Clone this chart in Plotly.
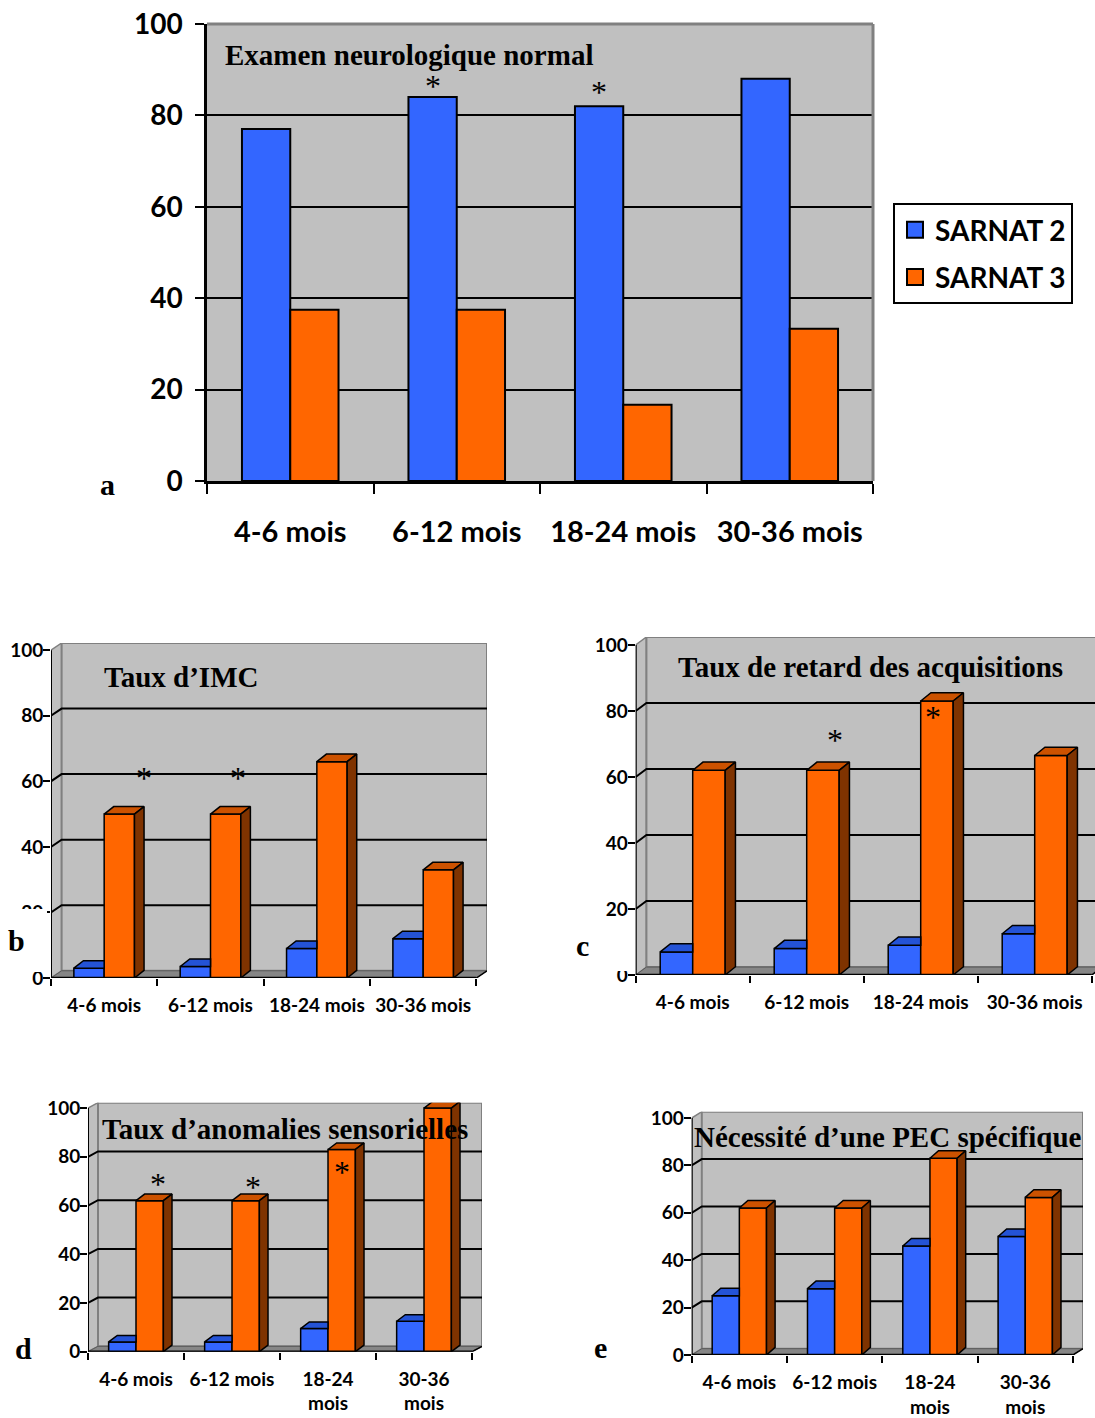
import plotly.graph_objects as go

# ---------------- data ----------------
categories = ["4-6 mois", "6-12 mois", "18-24 mois", "30-36 mois"]
categories_wrapped = ["4-6 mois", "6-12 mois", "18-24<br>mois", "30-36<br>mois"]
series_names = ["SARNAT 2", "SARNAT 3"]
y_ticks = [0, 20, 40, 60, 80, 100]

# a : Examen neurologique normal
neuro_s2 = [77, 84, 82, 88]
neuro_s3 = [37.5, 37.5, 16.7, 33.3]
# b : Taux d'IMC
imc_s2 = [3, 3.5, 9, 12]
imc_s3 = [50, 50, 66, 33]
# c : Taux de retard des acquisitions
retard_s2 = [7, 8, 9, 12.5]
retard_s3 = [62, 62, 83, 66.5]
# d : Taux d'anomalies sensorielles
sens_s2 = [4, 4, 9.5, 12.5]
sens_s3 = [62, 62, 83, 100]
# e : Nécessité d'une PEC spécifique
pec_s2 = [25, 28, 46, 50]
pec_s3 = [62, 62, 83, 66.5]

# significance asterisks: (category index, horizontal offset within category, value level)
stars_a = [(1, -0.145, 87.0), (2, -0.145, 85.8)]
stars_b = [(0, 0.37, 62), (1, 0.26, 62)]
stars_c = [(1, 0.25, 72), (2, 0.11, 79)]
stars_d = [(0, 0.23, 70), (1, 0.22, 69), (2, 0.15, 75)]

# ---------------- style ----------------
W, H = 1095, 1418
BLUE, BLUE_TOP = "#3366FF", "#2453D6"
ORANGE, ORANGE_TOP, ORANGE_SIDE = "#FF6600", "#CC5200", "#7F3300"
WALL, FLOOR, EDGE = "#C0C0C0", "#868686", "#808080"
SANS = "Lato"
SERIF = "Liberation Serif"


def px(x):
    return x / W


def py(y):
    return 1 - y / H


idx = list(range(len(categories)))
fig = go.Figure()
shapes = []
annotations = []


def axn(n, letter):
    return letter if n == 1 else f"{letter}{n}"


def add_front_bars(n, s2, s3, bw, lw):
    for vals, col, off in ((s2, BLUE, -bw), (s3, ORANGE, 0)):
        fig.add_trace(go.Bar(
            x=idx, y=vals, width=bw, offset=off,
            marker=dict(color=col, line=dict(color="black", width=lw)),
            xaxis=axn(n, "x"), yaxis=axn(n, "y"),
            showlegend=False, hoverinfo="skip"))


def polys_trace(n, xs, ys, color):
    fig.add_trace(go.Scatter(
        x=xs, y=ys, mode="lines", fill="toself", fillcolor=color,
        line=dict(color="black", width=1.5),
        xaxis=axn(n, "x"), yaxis=axn(n, "y"),
        showlegend=False, hoverinfo="skip"))


def add_3d_faces(n, s2, s3, bw, bdx, bdy):
    bt_x, bt_y = [], []
    ot_x, ot_y, os_x, os_y = [], [], [], []
    for c, vb, vo in zip(idx, s2, s3):
        xl = c - bw
        if vo >= vb + bdy:   # right part of blue top hidden by orange front face
            bt_x += [xl, xl + bdx, c, c, xl, None]
        else:
            bt_x += [xl, xl + bdx, c + bdx, c, xl, None]
        bt_y += [vb, vb + bdy, vb + bdy, vb, vb, None]
        ot_x += [c, c + bdx, c + bw + bdx, c + bw, c, None]
        ot_y += [vo, vo + bdy, vo + bdy, vo, vo, None]
        os_x += [c + bw, c + bw + bdx, c + bw + bdx, c + bw, c + bw, None]
        os_y += [0, bdy, vo + bdy, vo, 0, None]
    polys_trace(n, bt_x, bt_y, BLUE_TOP)
    polys_trace(n, ot_x, ot_y, ORANGE_TOP)
    polys_trace(n, os_x, os_y, ORANGE_SIDE)


def path(pts):
    return "M " + " L ".join(f"{x},{y}" for x, y in pts) + " Z"


def add_3d_box(n, dx, dy):
    xr, yr = axn(n, "x"), axn(n, "y")
    x0, x1 = -0.5, len(categories) - 0.5
    shapes.append(dict(type="path", xref=xr, yref=yr, layer="below",
                       path=path([(x0, 0), (x0 + dx, dy), (x0 + dx, 100 + dy), (x0, 100)]),
                       fillcolor=WALL, line=dict(color=EDGE, width=1.5)))
    shapes.append(dict(type="rect", xref=xr, yref=yr, layer="below",
                       x0=x0 + dx, x1=x1 + dx, y0=dy, y1=100 + dy,
                       fillcolor=WALL, line=dict(color=EDGE, width=2)))
    shapes.append(dict(type="path", xref=xr, yref=yr, layer="below",
                       path=path([(x0, 0), (x0 + dx, dy), (x1 + dx, dy), (x1, 0)]),
                       fillcolor=FLOOR, line=dict(color="#5a5a5a", width=1)))
    for v in y_ticks[1:-1]:
        shapes.append(dict(type="path", xref=xr, yref=yr, layer="below",
                           path=f"M {x0},{v} L {x0 + dx},{v + dy} L {x1 + dx},{v + dy}",
                           line=dict(color="black", width=2)))
    shapes.append(dict(type="line", xref=xr, yref=yr, layer="above",
                       x0=x0, x1=x0, y0=0, y1=100, line=dict(color="black", width=2)))
    shapes.append(dict(type="line", xref=xr, yref=yr, layer="above",
                       x0=x0, x1=x1, y0=0, y1=0, line=dict(color="black", width=2.5)))
    shapes.append(dict(type="line", xref=xr, yref=yr, layer="above",
                       x0=x1, x1=x1 + dx, y0=0, y1=dy, line=dict(color="black", width=1.5)))


STAR_SIZE = 32


def add_stars(n, stars):
    for c, off, v in stars:
        annotations.append(dict(xref=axn(n, "x"), yref=axn(n, "y"), x=c + off, y=v,
                                text="*", showarrow=False,
                                font=dict(family=SERIF, size=STAR_SIZE, color="black"),
                                yanchor="middle", xanchor="center", yshift=-3))


# ---------------- panel a ----------------
BW_A = 0.29
add_front_bars(1, neuro_s2, neuro_s3, BW_A, 2)
add_stars(1, stars_a)
for name, col in zip(series_names, (BLUE, ORANGE)):
    fig.add_trace(go.Scatter(x=[None], y=[None], mode="markers", name=name, legendgroup=name,
                             marker=dict(symbol="square", size=20, color=col,
                                         line=dict(color="black", width=2)),
                             xaxis="x", yaxis="y"))

shapes.append(dict(type="rect", xref="x domain", yref="y domain", x0=0, x1=1, y0=0, y1=1,
                   layer="below", fillcolor=WALL, line=dict(width=0)))
shapes.append(dict(type="line", xref="x domain", yref="y domain", x0=0, x1=1, y0=1, y1=1,
                   layer="above", line=dict(color=EDGE, width=3)))
shapes.append(dict(type="line", xref="x domain", yref="y domain", x0=1, x1=1, y0=0, y1=1,
                   layer="above", line=dict(color=EDGE, width=3)))

# ---------------- 3D panels ----------------
BW = 0.285
BDX = 0.09
panels = [
    # n, s2, s3, xdom, ydom, dx, dy, bar_dy, xmax, labels, stars
    (2, imc_s2, imc_s3, [px(51), px(487)], [py(978), py(643)], 0.10, 2.2, 2.3, None, categories, stars_b),
    (3, retard_s2, retard_s3, [px(635.7), 1.0], [py(975), py(637)], 0.094, 2.4, 2.5, 3.529, categories, stars_c),
    (4, sens_s2, sens_s3, [px(88), px(482)], [py(1351.7), py(1102.7)], 0.104, 2.2, 2.7, None, categories_wrapped, stars_d),
    (5, pec_s2, pec_s3, [px(691.7), px(1083)], [py(1355), py(1111.7)], 0.106, 2.66, 3.2, None, categories_wrapped, []),
]

axis_font_small = dict(family=SANS, size=19, color="black", weight="bold")
layout_axes = {}
for n, s2, s3, xd, yd, dx, dy, bdy, xmax, labels, stars in panels:
    add_3d_box(n, dx, dy)
    add_front_bars(n, s2, s3, BW, 1.5)
    add_3d_faces(n, s2, s3, BW, BDX, bdy)
    add_stars(n, stars)
    xm = xmax if xmax is not None else len(categories) - 0.5 + dx
    layout_axes[f"xaxis{n}"] = dict(
        domain=xd, range=[-0.5, xm], anchor=axn(n, "y"), automargin=False,
        tickmode="array", tickvals=idx, ticktext=labels,
        ticks="outside", ticklen=7, tickcolor="rgba(0,0,0,0)",
        minor=dict(tickmode="linear", tick0=-0.5, dtick=1, ticks="outside",
                   ticklen=7, tickwidth=2, tickcolor="black", showgrid=False),
        showline=False, showgrid=False, zeroline=False,
        tickfont=axis_font_small, ticklabelstandoff=3, fixedrange=True)
    layout_axes[f"yaxis{n}"] = dict(
        domain=yd, range=[0, 100 + dy], anchor=axn(n, "x"), automargin=False,
        tickmode="array", tickvals=y_ticks,
        ticks="outside", ticklen=7, tickwidth=2, tickcolor="black",
        showline=False, showgrid=False, zeroline=False,
        tickfont=axis_font_small, ticklabelstandoff=-4, fixedrange=True)

# ---------------- titles & letters ----------------
titles = [
    ("Examen neurologique normal", 223, 55),
    ("Taux d’IMC", 102, 677),
    ("Taux de retard des acquisitions", 676, 667),
    ("Taux d’anomalies sensorielles", 100, 1129),
    ("Nécessité d’une PEC spécifique", 692, 1137),
]
for t, x, y in titles:
    annotations.append(dict(xref="paper", yref="paper", x=px(x), y=py(y), text=t,
                            showarrow=False, xanchor="left", yanchor="middle",
                            font=dict(family=SERIF, size=29, color="black", weight="bold")))

shapes.append(dict(type="rect", xref="paper", yref="paper", x0=0, x1=px(47),
                   y0=py(972), y1=py(909), fillcolor="white", line=dict(width=0), layer="above"))
shapes.append(dict(type="rect", xref="paper", yref="paper", x0=px(560), x1=px(633),
                   y0=py(971), y1=py(922), fillcolor="white", line=dict(width=0), layer="above"))

letters = [("a", 107, 484), ("b", 16, 940), ("c", 582, 945), ("d", 23, 1348), ("e", 600, 1347)]
for t, x, y in letters:
    annotations.append(dict(xref="paper", yref="paper", x=px(x), y=py(y), text=t,
                            showarrow=False, xanchor="center", yanchor="middle",
                            font=dict(family=SERIF, size=30, color="black", weight="bold")))

fig.update_layout(
    width=W, height=H, margin=dict(l=0, r=0, t=0, b=0, autoexpand=False),
    paper_bgcolor="white", plot_bgcolor="rgba(0,0,0,0)",
    barmode="overlay", hovermode=False,
    xaxis=dict(domain=[px(207), px(873)], range=[-0.5, 3.5], anchor="y", automargin=False,
               tickmode="array", tickvals=idx, ticktext=categories,
               ticks="outside", ticklen=10, tickcolor="rgba(0,0,0,0)",
               minor=dict(tickmode="linear", tick0=-0.5, dtick=1, ticks="outside",
                          ticklen=10, tickwidth=2, tickcolor="black", showgrid=False),
               showline=True, linecolor="black", linewidth=2.5,
               showgrid=False, zeroline=False, ticklabelstandoff=13,
               tickfont=dict(family=SANS, size=29, color="black", weight="bold"), fixedrange=True),
    yaxis=dict(domain=[py(481), py(24)], range=[0, 100], anchor="x", automargin=False,
               tickmode="array", tickvals=y_ticks,
               ticks="outside", ticklen=9, tickwidth=2, tickcolor="black",
               showline=True, linecolor="black", linewidth=2.5,
               showgrid=True, gridcolor="black", gridwidth=2, zeroline=False,
               ticklabelstandoff=7,
               tickfont=dict(family=SANS, size=28, color="black", weight="bold"), fixedrange=True),
    legend=dict(x=px(893), y=py(203), xanchor="left", yanchor="top",
                bordercolor="black", borderwidth=2, bgcolor="white",
                font=dict(family=SANS, size=28, color="black", weight="bold"),
                traceorder="grouped", tracegroupgap=8, itemclick=False, itemdoubleclick=False),
    shapes=shapes, annotations=annotations,
    **layout_axes,
)

fig.write_html("out.html", config={"displayModeBar": False},
               post_script="document.body.style.margin='0';")
